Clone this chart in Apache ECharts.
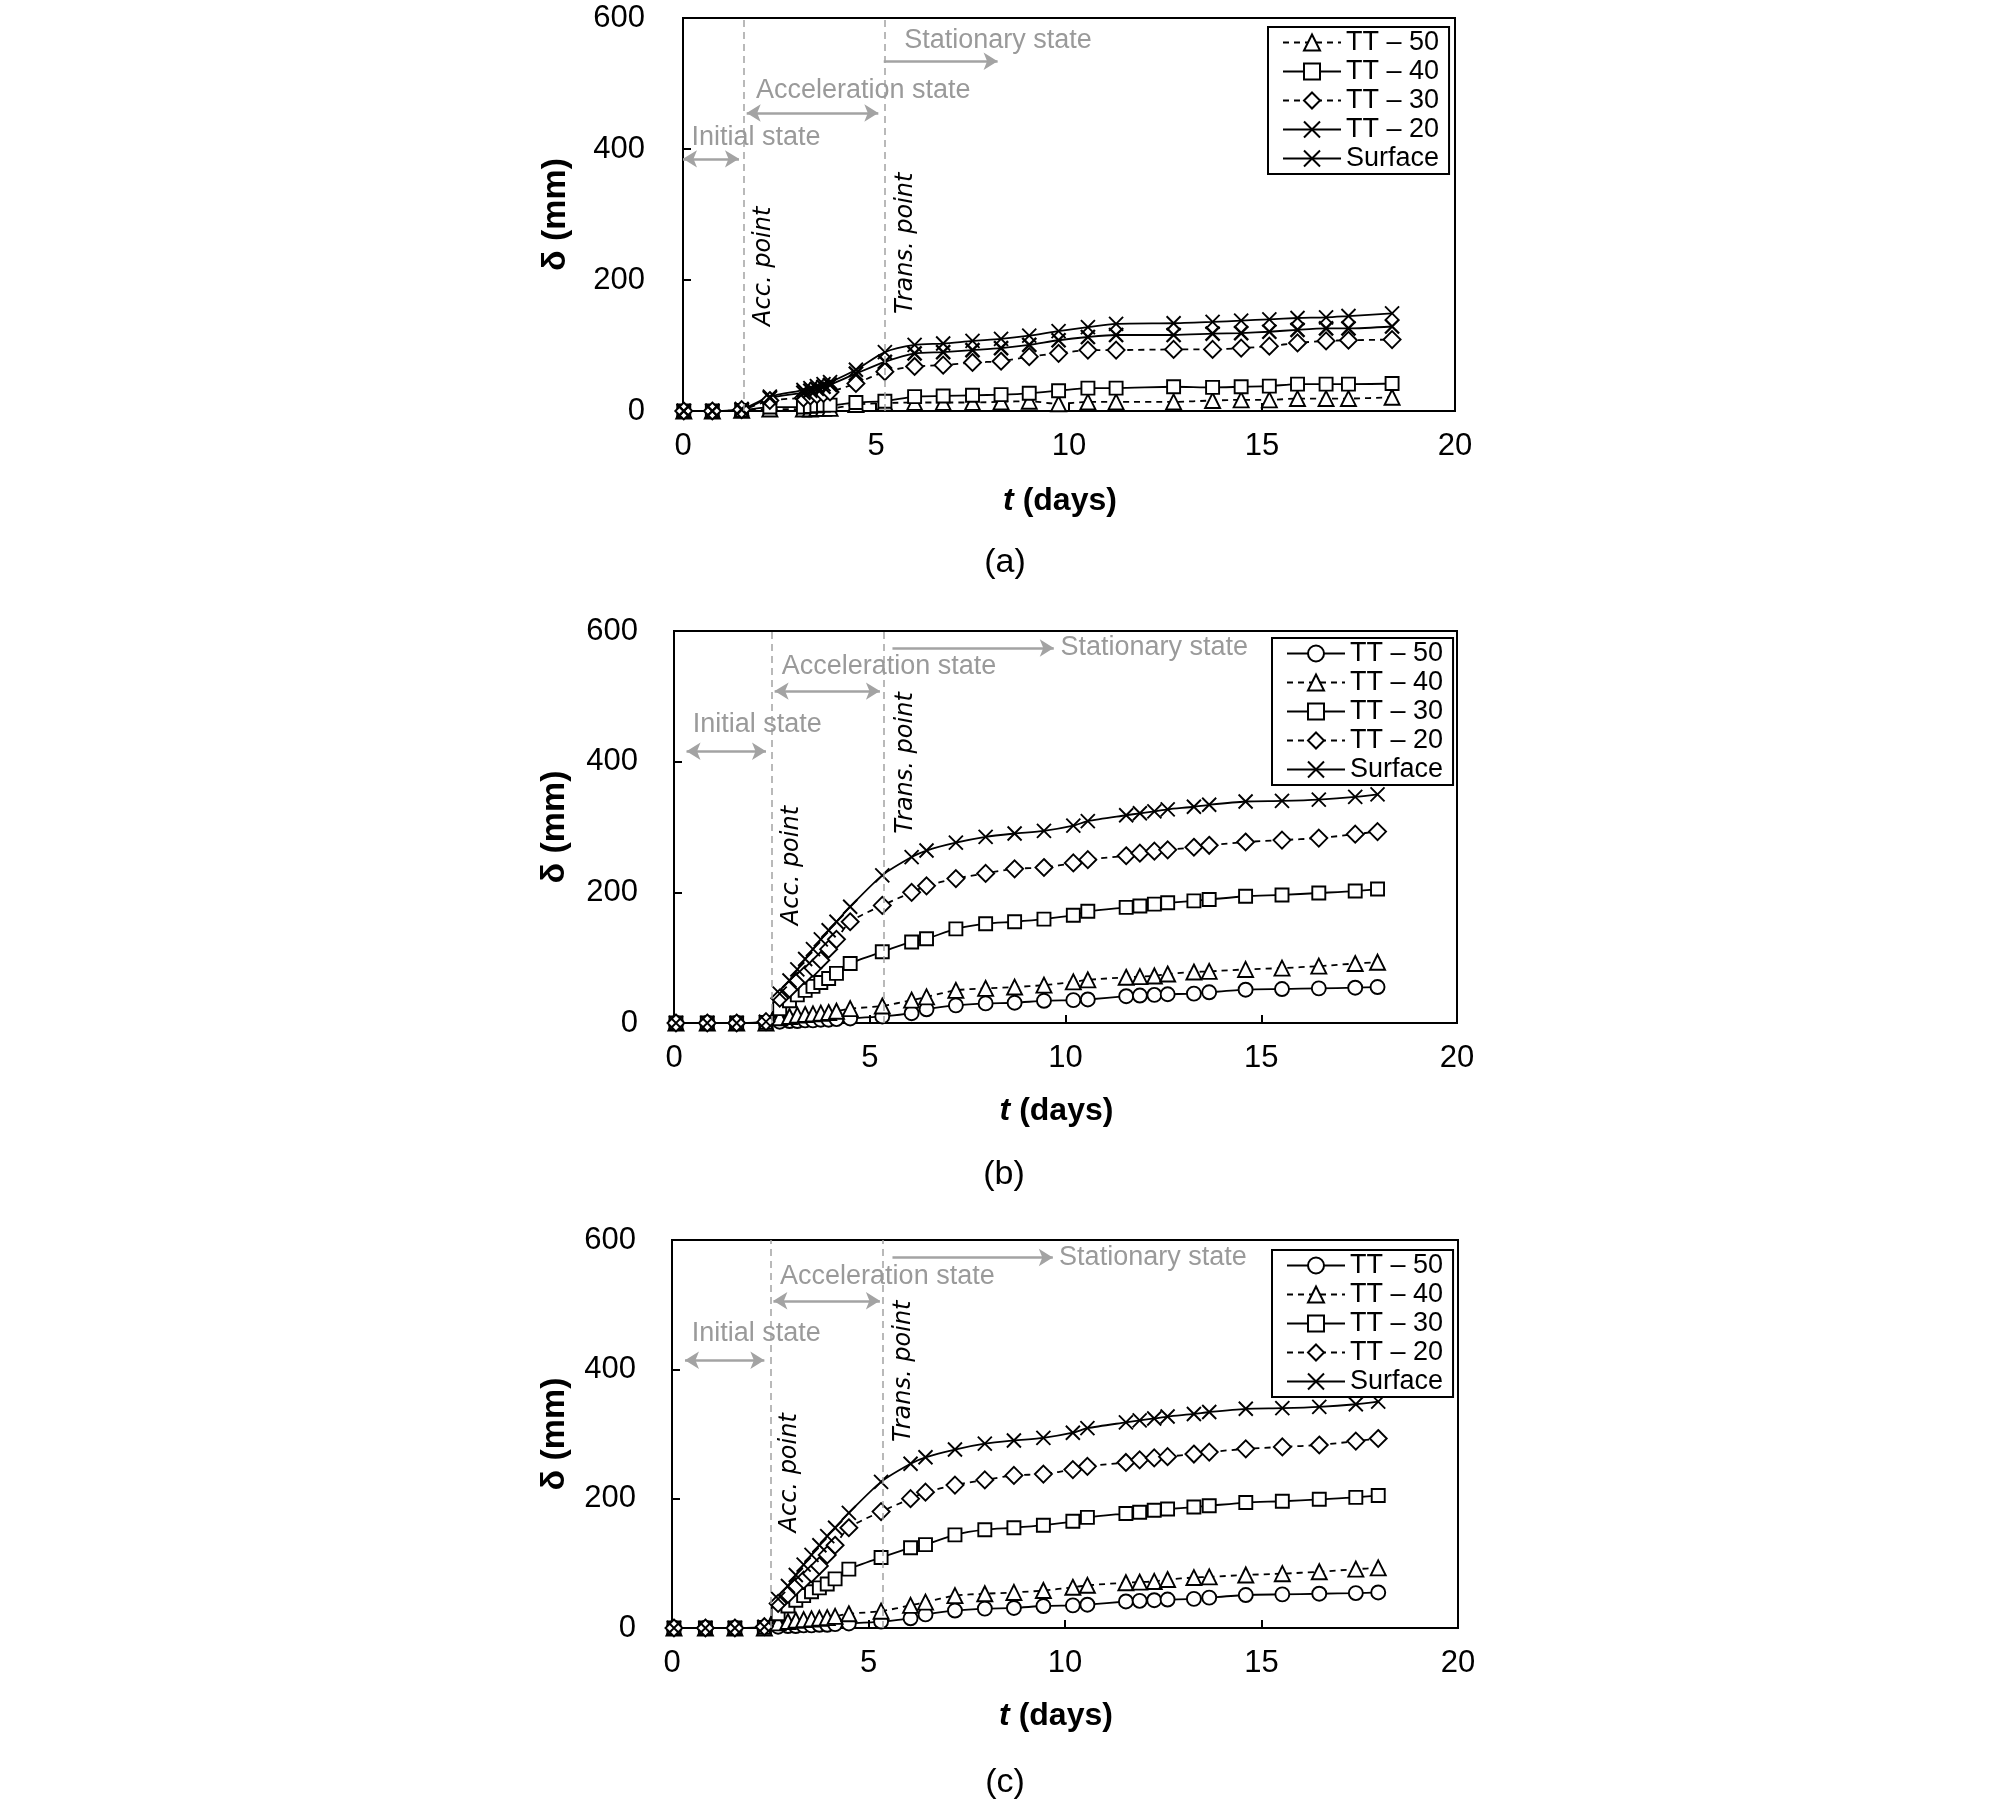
<!DOCTYPE html>
<html lang="en">
<head>
<meta charset="UTF-8">
<title>Displacement vs time</title>
<script src="https://cdn.jsdelivr.net/npm/echarts@6/dist/echarts.min.js"></script>
<style>
    html, body { margin: 0; padding: 0; background: #fff; }
    .panel { position: absolute; left: 0; width: 2008px; }
</style>
</head>
<body>
<div id="pa" class="panel" style="top:0;height:600px"></div>
<div id="pb" class="panel" style="top:600px;height:600px"></div>
<div id="pc" class="panel" style="top:1200px;height:601px"></div>
<script>
// ---- panel (a) readings: t in days, delta in mm
var timeA    = [0.02, 0.76, 1.52, 2.25, 3.12, 3.3, 3.47, 3.64, 3.81, 4.48, 5.23, 6.0, 6.74, 7.5, 8.24, 8.97, 9.73, 10.49, 11.22, 12.71, 13.72, 14.46, 15.19, 15.92, 16.66, 17.24, 18.37];
var tt50A    = [0, 0, 1, 3, 3, 3, 4, 4, 4, 10, 12, 13, 13, 13, 14, 15, 11, 14, 14, 14, 16, 17, 17, 19, 19, 19, 21];
var tt40A    = [0, 0, 1, 6, 6, 7, 8, 9, 9, 13, 15, 22, 23, 24, 25, 27, 31, 35, 35, 37, 36, 37, 38, 41, 41, 41, 42];
var tt30A    = [0, 0, 2, 16, 20, 23, 25, 27, 29, 42, 60, 68, 70, 74, 76, 83, 88, 93, 93, 94, 94, 96, 99, 104, 107, 108, 109];
var tt20A    = [0, 0, 2, 20, 28, 31, 34, 37, 40, 57, 75, 88, 90, 93, 96, 101, 108, 113, 116, 116, 118, 119, 121, 124, 126, 126, 129];
var surfaceA = [0, 0, 3, 22, 32, 35, 38, 41, 44, 63, 90, 101, 103, 107, 110, 115, 122, 128, 133, 134, 136, 138, 140, 142, 143, 145, 149];

// ---- panel (b) readings (panel (c) shows the same record)
var timeB    = [0.05, 0.85, 1.6, 2.35, 2.7, 2.95, 3.15, 3.35, 3.55, 3.75, 3.95, 4.15, 4.5, 5.32, 6.07, 6.45, 7.2, 7.96, 8.7, 9.45, 10.2, 10.57, 11.55, 11.9, 12.27, 12.61, 13.28, 13.67, 14.6, 15.53, 16.47, 17.4, 17.97];
var tt50B    = [0, 0, 0, 0, 2, 3, 3, 4, 4, 5, 5, 6, 7, 10, 15, 21, 27, 30, 31, 34, 35, 36, 41, 42, 43, 44, 45, 47, 51, 52, 53, 54, 55];
var tt40B    = [0, 0, 0, 0, 8, 10, 12, 13, 14, 15, 16, 18, 22, 26, 35, 40, 50, 53, 55, 58, 63, 66, 70, 71, 72, 75, 78, 79, 82, 84, 87, 91, 93];
var tt30B    = [0, 0, 0, 1, 22, 34, 43, 50, 56, 62, 68, 76, 91, 109, 124, 129, 144, 152, 155, 159, 165, 171, 177, 179, 182, 184, 187, 189, 194, 196, 199, 202, 205];
var tt20B    = [0, 0, 0, 2, 38, 52, 64, 74, 84, 96, 113, 128, 155, 180, 200, 210, 221, 229, 236, 238, 245, 250, 256, 260, 263, 265, 269, 272, 277, 280, 283, 289, 293];
var surfaceB = [0, 0, 0, 2, 45, 65, 82, 98, 113, 128, 142, 155, 178, 226, 254, 264, 276, 285, 290, 294, 302, 309, 318, 321, 324, 327, 331, 334, 339, 340, 342, 346, 350];

var FONT = 'Liberation Sans, Arial, sans-serif';
var CROSS = 'path://M0,0L10,10M10,0L0,10';
var GREY = '#a3a3a3';

function pairs(xs, ys) {
    return xs.map(function (x, i) { return [x, ys[i]]; });
}

function buildPanel(id, cfg) {
    var chart = echarts.init(document.getElementById(id));
    var n = cfg.notes;
    var series = cfg.lines.map(function (s) {
        return {
            name: s.name,
            type: 'line',
            data: pairs(cfg.time, s.values),
            symbol: s.symbol,
            symbolSize: s.size || 15,
            smooth: 0.25,
            clip: false,
            animation: false,
            lineStyle: { color: '#000', width: 1.8, type: s.dashed ? [6, 5] : 'solid' },
            itemStyle: { color: '#fff', borderColor: '#000', borderWidth: s.bw || 1.9 },
            emphasis: { disabled: true },
            z: 3
        };
    });
    var arrowStyle = { color: GREY, width: 2.5, type: 'solid' };
    var dashStyle = { color: GREY, width: 1.5, type: [7, 5] };
    var italic = { position: 'inside', rotate: 90, color: '#000', fontStyle: 'italic', fontFamily: 'DejaVu Sans', fontSize: 24 };
    // helper series that only carries the annotations
    series.push({
        type: 'line',
        data: [],
        silent: true,
        animation: false,
        markLine: {
            silent: true,
            symbol: ['none', 'none'],
            symbolSize: [13, 14],
            label: { show: false },
            data: [
                { xAxis: n.acc, lineStyle: dashStyle },
                { xAxis: n.trans, lineStyle: dashStyle },
                [{ coord: [n.initArrow[0], n.initArrow[2]], symbol: 'arrow', lineStyle: arrowStyle },
                 { coord: [n.initArrow[1], n.initArrow[2]], symbol: 'arrow' }],
                [{ coord: [n.accArrow[0], n.accArrow[2]], symbol: 'arrow', lineStyle: arrowStyle },
                 { coord: [n.accArrow[1], n.accArrow[2]], symbol: 'arrow' }],
                [{ coord: [n.statArrow[0], n.statArrow[2]], symbol: 'none', lineStyle: arrowStyle },
                 { coord: [n.statArrow[1], n.statArrow[2]], symbol: 'arrow' }]
            ]
        },
        markPoint: {
            silent: true,
            symbol: 'circle',
            symbolSize: 0,
            label: { show: true, position: 'right', distance: 0, color: '#9a9a9a', fontSize: 27, fontFamily: FONT },
            data: [
                { coord: n.initText, label: { formatter: 'Initial state' } },
                { coord: n.accText, label: { formatter: 'Acceleration state' } },
                { coord: n.statText, label: { formatter: 'Stationary state' } },
                { coord: n.accPoint, label: Object.assign({ formatter: 'Acc. point' }, italic) },
                { coord: n.transPoint, label: Object.assign({ formatter: 'Trans. point' }, italic) }
            ]
        }
    });

    var g = cfg.grid;
    chart.setOption({
        animation: false,
        grid: { left: g[0], top: g[1], width: g[2], height: g[3], show: true, borderColor: '#000', borderWidth: 2,
                outerBoundsMode: 'none' },
        xAxis: {
            type: 'value', min: 0, max: 20, interval: 5,
            name: '{i|t} (days)', nameLocation: 'middle', nameGap: cfg.xGap,
            nameTextStyle: { color: '#000', fontSize: 32, fontWeight: 'bold', fontFamily: FONT, padding: [0, 18, 0, 0],
                rich: { i: { fontSize: 32, fontWeight: 'bold', fontStyle: 'italic', fontFamily: FONT, color: '#000' } } },
            axisLine: { lineStyle: { color: '#000', width: 2 } },
            axisTick: { inside: true, length: 8, lineStyle: { color: '#000', width: 2 } },
            axisLabel: { color: '#000', fontSize: 31, fontFamily: FONT, margin: 20 },
            splitLine: { show: false }
        },
        yAxis: {
            type: 'value', min: 0, max: 600, interval: 200,
            name: 'δ (mm)', nameLocation: 'middle', nameGap: cfg.yGap,
            nameTextStyle: { color: '#000', fontSize: 34, fontWeight: 'bold', fontFamily: FONT },
            axisLine: { lineStyle: { color: '#000', width: 2 } },
            axisTick: { inside: true, length: 8, lineStyle: { color: '#000', width: 2 } },
            axisLabel: { color: '#000', fontSize: 31, fontFamily: FONT, margin: cfg.yMargin },
            splitLine: { show: false }
        },
        legend: {
            orient: 'vertical', left: cfg.legend[0], top: cfg.legend[1],
            padding: [2, 10, 2, 14], itemGap: 2, itemWidth: 58, itemHeight: 20,
            borderColor: '#000', borderWidth: 2, backgroundColor: '#fff',
            selectedMode: false,
            textStyle: { color: '#000', fontSize: 27, fontFamily: FONT, lineHeight: 25 },
            data: cfg.lines.map(function (s) { return s.name; })
        },
        graphic: [{
            type: 'text', x: cfg.tag[1], y: cfg.tag[2],
            style: { text: cfg.tag[0], fill: '#000', font: '34px ' + FONT, textAlign: 'center', textVerticalAlign: 'middle' }
        }],
        series: series
    });
}

buildPanel('pa', {
    grid: [683, 18, 772, 393], xGap: 74, yGap: 110, yMargin: 38,
    legend: [1268, 27], tag: ['(a)', 1005, 563],
    time: timeA,
    lines: [
        { name: 'TT – 50', values: tt50A, symbol: 'triangle', dashed: true },
        { name: 'TT – 40', values: tt40A, symbol: 'rect', size: 13 },
        { name: 'TT – 30', values: tt30A, symbol: 'diamond', dashed: true, size: 17 },
        { name: 'TT – 20', values: tt20A, symbol: CROSS, size: 14, bw: 2.4 },
        { name: 'Surface', values: surfaceA, symbol: CROSS, size: 14 }
    ],
    notes: {
        acc: 1.57, trans: 5.22,
        initText: [0.22, 418], initArrow: [0, 1.45, 385],
        accText: [1.89, 489], accArrow: [1.65, 5.06, 455],
        statText: [5.73, 565], statArrow: [5.2, 8.15, 534],
        accPoint: [2.08, 221], transPoint: [5.77, 256]
    }
});

buildPanel('pb', {
    grid: [674, 31, 783, 392], xGap: 72, yGap: 102, yMargin: 36,
    legend: [1272, 38], tag: ['(b)', 1004, 575],
    time: timeB,
    lines: [
        { name: 'TT – 50', values: tt50B, symbol: 'circle', size: 14 },
        { name: 'TT – 40', values: tt40B, symbol: 'triangle', dashed: true },
        { name: 'TT – 30', values: tt30B, symbol: 'rect', size: 13 },
        { name: 'TT – 20', values: tt20B, symbol: 'diamond', dashed: true, size: 17 },
        { name: 'Surface', values: surfaceB, symbol: CROSS, size: 14 }
    ],
    notes: {
        acc: 2.5, trans: 5.35,
        initText: [0.48, 457], initArrow: [0.32, 2.35, 416],
        accText: [2.75, 545], accArrow: [2.57, 5.26, 508],
        statText: [9.87, 574], statArrow: [5.58, 9.7, 574],
        accPoint: [3.0, 241], transPoint: [5.91, 398]
    }
});

buildPanel('pc', {
    grid: [672, 40, 786, 388], xGap: 72, yGap: 100, yMargin: 36,
    legend: [1272, 50], tag: ['(c)', 1005, 583],
    time: timeB,
    lines: [
        { name: 'TT – 50', values: tt50B, symbol: 'circle', size: 14 },
        { name: 'TT – 40', values: tt40B, symbol: 'triangle', dashed: true },
        { name: 'TT – 30', values: tt30B, symbol: 'rect', size: 13 },
        { name: 'TT – 20', values: tt20B, symbol: 'diamond', dashed: true, size: 17 },
        { name: 'Surface', values: surfaceB, symbol: CROSS, size: 14 }
    ],
    notes: {
        acc: 2.51, trans: 5.35,
        initText: [0.5, 456], initArrow: [0.33, 2.35, 414],
        accText: [2.75, 543], accArrow: [2.58, 5.29, 506],
        statText: [9.85, 573], statArrow: [5.61, 9.69, 573],
        accPoint: [3.0, 240], transPoint: [5.9, 397]
    }
});
</script>
</body>
</html>
